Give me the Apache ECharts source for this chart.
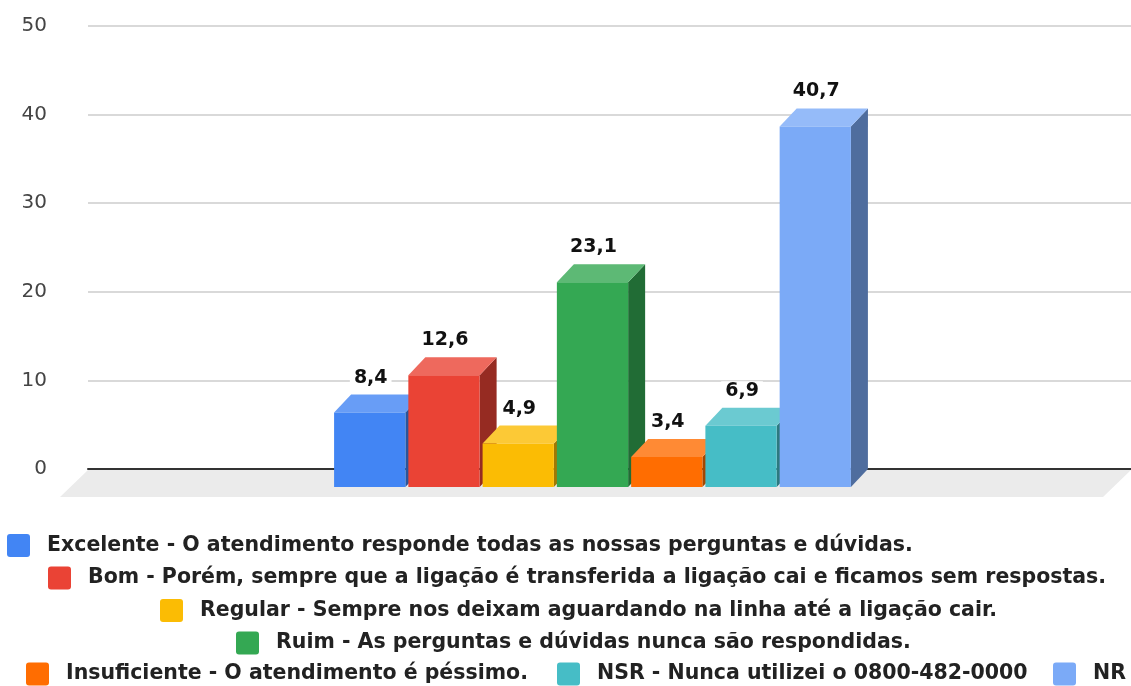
<!DOCTYPE html>
<html>
<head>
<meta charset="utf-8">
<script src="https://cdn.jsdelivr.net/npm/echarts@6/dist/echarts.min.js"></script>
<style>
html,body{margin:0;padding:0;background:#fff;}
#chart{width:1131px;height:686px;}
</style>
</head>
<body>
<div id="chart"></div>
<script>
const seriesNames = [
  "Excelente - O atendimento responde todas as nossas perguntas e dúvidas.",
  "Bom - Porém, sempre que a ligação é transferida a ligação cai e ficamos sem respostas.",
  "Regular - Sempre nos deixam aguardando na linha até a ligação cair.",
  "Ruim - As perguntas e dúvidas nunca são respondidas.",
  "Insuficiente - O atendimento é péssimo.",
  "NSR - Nunca utilizei o 0800-482-0000",
  "NR"
];
const seriesValues = [8.4, 12.6, 4.9, 23.1, 3.4, 6.9, 40.7];
const categories = [""];
const yTicks = [0, 10, 20, 30, 40, 50];

const frontColors = ['#4285F4','#EA4335','#FBBC04','#34A853','#FF6D01','#46BDC6','#7BAAF7'];

function shade(hex, f){
  const n = parseInt(hex.slice(1),16);
  let r=(n>>16)&255,g=(n>>8)&255,b=n&255;
  if (f>=0){ r=r+(255-r)*f; g=g+(255-g)*f; b=b+(255-b)*f; }
  else { r=r*(1+f); g=g*(1+f); b=b*(1+f); }
  return 'rgb('+Math.round(r)+','+Math.round(g)+','+Math.round(b)+')';
}

const DX = 17, DY = 18, FLOOR = 28, SLOT_RATIO = 0.0712, GAP = 3;
const N = seriesValues.length;

function makeRender(i){
  return function(params, api){
    const cs = params.coordSys;
    const base = api.coord([api.value(0), 0]);
    const topP = api.coord([api.value(0), api.value(1)]);
    const band = api.size([1, 0])[0];
    const slot = band * SLOT_RATIO;
    const cx = base[0];
    const y0 = base[1];
    const yt = topP[1];
    const bx = cx - N*slot/2 + i*slot + GAP/2;
    const w = slot - GAP;
    const c = frontColors[i];
    const children = [];
    if (i === 0){
      children.push({type:'polygon', shape:{points:[
        [cs.x, y0+1],[cs.x+cs.width, y0+1],[cs.x+cs.width-FLOOR, y0+FLOOR],[cs.x-FLOOR, y0+FLOOR]
      ]}, style:{fill:'#ebebeb'}});
    }
    children.push({type:'polygon', shape:{points:[
      [bx+w-DX, yt+DY],[bx+w, yt],[bx+w, y0],[bx+w-DX, y0+DY]
    ]}, style:{fill:shade(c,-0.36)}});
    children.push({type:'polygon', shape:{points:[
      [bx-DX, yt+DY],[bx, yt],[bx+w, yt],[bx+w-DX, yt+DY]
    ]}, style:{fill:shade(c,0.2)}});
    children.push({type:'rect', shape:{x:bx-DX, y:yt+DY, width:w, height:y0-yt}, style:{fill:c}});
    children.push({type:'text', style:{
      text: String(api.value(1)).replace('.', ','),
      x: bx - DX + w/2 + 1, y: yt - 17,
      align:'center', verticalAlign:'middle',
      font:'bold 19px "DejaVu Sans"', fill:'#111',
      backgroundColor:'#fff', padding:[0,4]
    }});
    return {type:'group', children};
  };
}

const series = seriesNames.map((name, i) => ({
  type:'custom',
  name: name,
  data: [[0, seriesValues[i]]],
  encode:{x:0, y:1},
  itemStyle:{color: frontColors[i]},
  renderItem: makeRender(i),
  silent:true
}));

const ICON = 'path://M3,0 L20,0 Q23,0 23,3 L23,20 Q23,23 20,23 L3,23 Q0,23 0,20 L0,3 Q0,0 3,0 Z';
const legendText = {fontFamily:'DejaVu Sans', fontWeight:'bold', fontSize:20.5, color:'#222', padding:[0,0,0,12], lineHeight:23};
function mkLegend(idx, left, top){
  return {
    data: idx.map(k => seriesNames[k]),
    left: left, top: top, orient:'horizontal',
    padding:0, itemGap: 10, width: 1400,
    icon: ICON, itemWidth:23, itemHeight:23,
    selectedMode:false,
    textStyle: legendText
  };
}

const chart = echarts.init(document.getElementById('chart'), null, {renderer:'canvas'});
chart.setOption({
  animation:false,
  color: frontColors,
  grid:{left:88, right:-5, top:26, bottom:217, containLabel:false},
  xAxis:{
    type:'category', data: categories,
    axisLabel:{show:false}, axisTick:{show:false},
    axisLine:{show:true, lineStyle:{color:'#333', width:2}},
    splitLine:{show:false}
  },
  yAxis:{
    type:'value', min: yTicks[0], max: yTicks[yTicks.length-1], interval: 10,
    axisLine:{show:false}, axisTick:{show:false},
    axisLabel:{fontFamily:'DejaVu Sans', fontSize:20, color:'#444', margin:41},
    splitLine:{lineStyle:{color:'#cccccc', width:1.5}}
  },
  legend:[
    mkLegend([0], 7, 534),
    mkLegend([1], 48, 566.5),
    mkLegend([2], 160, 599),
    mkLegend([3], 236, 631.5),
    mkLegend([4], 26, 662.5),
    mkLegend([5], 557, 662.5),
    mkLegend([6], 1053, 662.5)
  ],
  series: series
});
</script>
</body>
</html>
